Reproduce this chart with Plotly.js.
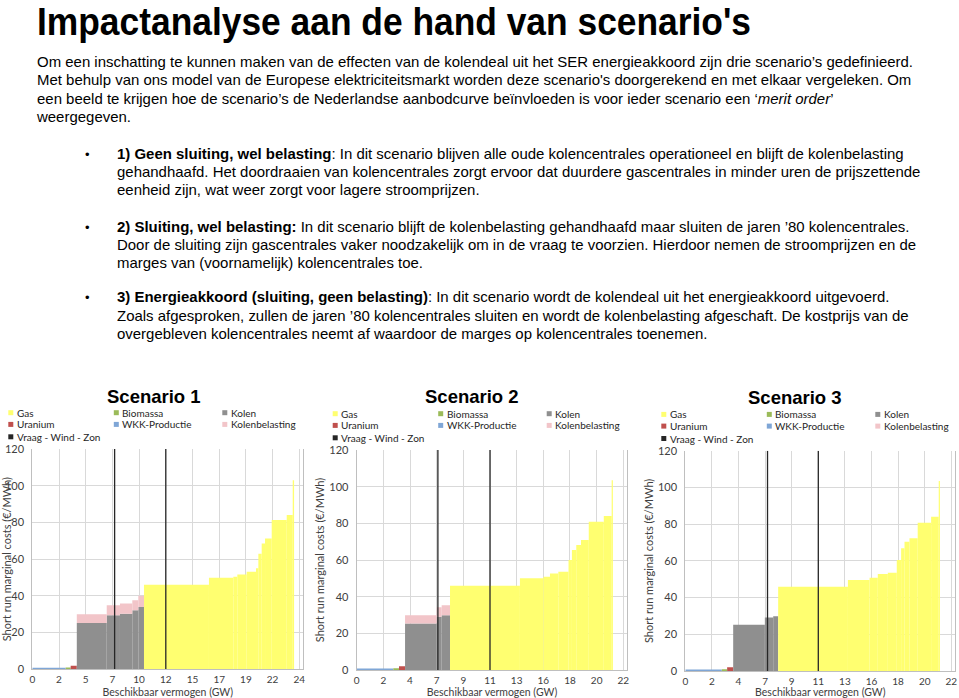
<!DOCTYPE html>
<html><head><meta charset="utf-8">
<script src="https://cdn.plot.ly/plotly-3.0.1.min.js"></script>
<style>
html,body{margin:0;padding:0;background:#fff;width:959px;height:698px;overflow:hidden;}
#page{position:relative;width:959px;height:698px;font-family:"Liberation Sans",Arial,sans-serif;color:#000;}
.ttl{position:absolute;left:37px;top:0px;font-size:38.5px;line-height:normal;font-weight:bold;white-space:nowrap;transform-origin:0 0;}
.ln{position:absolute;font-size:15px;line-height:18px;white-space:nowrap;transform-origin:0 0;}
.bul{position:absolute;font-size:13px;line-height:18px;}
#chart{position:absolute;left:0;top:380px;width:959px;height:318px;}
</style></head>
<body><div id="page">
<div class="ttl" id="ttl">Impactanalyse aan de hand van scenario's</div>
<div id="text"></div>
<div id="chart"></div>
</div>
<script>
// ---------------- DATA ----------------
// Scenario 1: merit order blocks (capacity in GW, cost in EUR/MWh, coal tax in EUR/MWh)
const s1Fuel = ['WKK-Productie','Biomassa','Uranium','Kolen','Kolen','Kolen','Kolen','Kolen','Gas','Gas','Gas','Gas','Gas','Gas','Gas','Gas','Gas','Gas','Gas','Gas'];
const s1Cap  = [3.0, 0.45, 0.55, 2.69, 1.19, 1.11, 0.54, 0.51, 5.84, 2.19, 0.36, 0.84, 0.84, 0.21, 0.30, 0.30, 0.60, 1.35, 0.54, 0.12];
const s1Cost = [0.8, 1.0, 2.0, 25.2, 29.4, 30.3, 32.1, 33.9, 46.0, 49.9, 50.4, 51.7, 53.2, 55.0, 63.0, 68.5, 71.3, 81.3, 84.0, 103.0];
const s1Tax  = [0, 0, 0, 4.8, 5.5, 5.5, 5.5, 6.2, 0, 0, 0, 0, 0, 0, 0, 0, 0, 0, 0, 0];
const s1Demand = [7.4, 12.0];
const s1TickText = ['0','2','5','7','10','12','15','17','19','22','24'];

// Scenario 2
const s2Fuel = ['WKK-Productie','Biomassa','Uranium','Kolen','Kolen','Kolen','Gas','Gas','Gas','Gas','Gas','Gas','Gas','Gas','Gas','Gas','Gas','Gas'];
const s2Cap  = [3.02, 0.47, 0.50, 2.61, 0.41, 0.69, 5.77, 1.94, 0.54, 0.69, 0.84, 0.28, 0.36, 0.39, 0.64, 1.24, 0.65, 0.10];
const s2Cost = [0.8, 1.0, 2.0, 25.3, 29.1, 29.8, 46.0, 50.0, 50.9, 52.7, 53.6, 60.0, 65.5, 68.2, 70.9, 80.9, 84.0, 103.5];
const s2Tax  = [0, 0, 0, 4.5, 5.1, 5.5, 0, 0, 0, 0, 0, 0, 0, 0, 0, 0, 0, 0];
const s2Demand = [6.7, 11.0];
const s2TickText = ['0','2','4','7','9','11','13','16','18','20','22'];

// Scenario 3
const s3Fuel = ['WKK-Productie','Biomassa','Uranium','Kolen','Kolen','Kolen','Gas','Gas','Gas','Gas','Gas','Gas','Gas','Gas','Gas','Gas','Gas','Gas'];
const s3Cap  = [3.02, 0.44, 0.50, 2.62, 0.69, 0.41, 5.77, 1.79, 0.68, 0.83, 0.74, 0.36, 0.28, 0.41, 0.68, 1.11, 0.63, 0.10];
const s3Cost = [0.8, 1.0, 2.0, 25.2, 29.2, 29.8, 45.9, 49.6, 50.8, 52.8, 53.5, 60.5, 66.8, 70.4, 72.3, 80.8, 84.0, 103.5];
const s3Tax  = [0, 0, 0, 0, 0, 0, 0, 0, 0, 0, 0, 0, 0, 0, 0, 0, 0, 0];
const s3Demand = [6.8, 11.0];
const s3TickText = ['0','2','4','7','9','11','13','16','18','20','22'];

const legendNames = ['Gas','Biomassa','Kolen','Uranium','WKK-Productie','Kolenbelasting','Vraag - Wind - Zon'];
const scenarioTitles = ['Scenario 1','Scenario 2','Scenario 3'];

// ---------------- STYLE ----------------
const colors = {
  'Gas':'#ffff70','Biomassa':'#9bbb59','Kolen':'#8f8f8f','Uranium':'#c0504d',
  'WKK-Productie':'#7fa6d6','Kolenbelasting':'#f2c5c9','Vraag - Wind - Zon':'#262626'
};

// ---------------- TEXT ----------------
const lines = [
 {x:37, cy:63, h:"Om een inschatting te kunnen maken van de effecten van de kolendeal uit het SER energieakkoord zijn drie scenario’s gedefinieerd."},
 {x:37, cy:81, h:"Met behulp van ons model van de Europese elektriciteitsmarkt worden deze scenario's doorgerekend en met elkaar vergeleken. Om"},
 {x:37, cy:100, h:"een beeld te krijgen hoe de scenario’s de Nederlandse aanbodcurve beïnvloeden is voor ieder scenario een ‘<i>merit order</i>’"},
 {x:37, cy:118, h:"weergegeven."},
 {x:117, cy:155, h:"<b>1) Geen sluiting, wel belasting</b>: In dit scenario blijven alle oude kolencentrales operationeel en blijft de kolenbelasting", b:1},
 {x:117, cy:173, h:"gehandhaafd. Het doordraaien van kolencentrales zorgt ervoor dat duurdere gascentrales in minder uren de prijszettende"},
 {x:117, cy:191, h:"eenheid zijn, wat weer zorgt voor lagere stroomprijzen."},
 {x:117, cy:228, h:"<b>2) Sluiting, wel belasting:</b> In dit scenario blijft de kolenbelasting gehandhaafd maar sluiten de jaren ’80 kolencentrales.", b:1},
 {x:117, cy:246, h:"Door de sluiting zijn gascentrales vaker noodzakelijk om in de vraag te voorzien. Hierdoor nemen de stroomprijzen en de"},
 {x:117, cy:264, h:"marges van (voornamelijk) kolencentrales toe."},
 {x:117, cy:298, h:"<b>3) Energieakkoord (sluiting, geen belasting)</b>: In dit scenario wordt de kolendeal uit het energieakkoord uitgevoerd.", b:1},
 {x:117, cy:317, h:"Zoals afgesproken, zullen de jaren ’80 kolencentrales sluiten en wordt de kolenbelasting afgeschaft. De kostprijs van de"},
 {x:117, cy:335, h:"overgebleven kolencentrales neemt af waardoor de marges op kolencentrales toenemen."}
];
const textHost = document.getElementById('text');
const lineEls = [];
lines.forEach(l => {
  const d = document.createElement('div');
  d.className = 'ln'; d.style.left = l.x + 'px'; d.style.top = (l.cy - 10) + 'px';
  d.innerHTML = l.h; textHost.appendChild(d); lineEls.push(d);
  if (l.b) {
    const b = document.createElement('div');
    b.className = 'bul'; b.style.left = '85px'; b.style.top = (l.cy - 9) + 'px';
    b.textContent = '•'; textHost.appendChild(b);
  }
});
function fitText(){
  lineEls.forEach(e => e.style.transform = '');
  const t = document.getElementById('ttl'); t.style.transform = '';
  const sc = 876 / lineEls[0].getBoundingClientRect().width;
  lineEls.forEach(e => e.style.transform = 'scaleX(' + sc + ')');
  t.style.transform = 'scaleX(' + (714 / t.getBoundingClientRect().width) + ')';
}
fitText();
if (document.fonts && document.fonts.ready) document.fonts.ready.then(fitText);

// ---------------- CHART ----------------
const W = 959, H = 318, TOP = 380;
const fx = x => x / W;
const fy = y => (H - (y - TOP)) / H;
const CF = 'Lato, "Open Sans", sans-serif';

const scen = [
  {fuel:s1Fuel, cap:s1Cap, cost:s1Cost, tax:s1Tax, dem:s1Demand, tt:s1TickText, step:2.4, L:32.3, R:303.3, T:449, B:669.3, titleX:154, titleY:396.5},
  {fuel:s2Fuel, cap:s2Cap, cost:s2Cost, tax:s2Tax, dem:s2Demand, tt:s2TickText, step:2.2, L:356.7, R:627.3, T:450, B:670, titleX:471.5, titleY:397},
  {fuel:s3Fuel, cap:s3Cap, cost:s3Cost, tax:s3Tax, dem:s3Demand, tt:s3TickText, step:2.2, L:685.3, R:955.3, T:450.7, B:671, titleX:794.7, titleY:397.5}
];

const traces = [];
const layout = {
  width: W, height: H, margin:{l:0,r:0,t:0,b:0},
  paper_bgcolor:'rgba(0,0,0,0)', plot_bgcolor:'#ffffff',
  barmode:'overlay', showlegend:false,
  font:{family:CF, size:10, color:'#404040'},
  annotations:[], shapes:[]
};

scen.forEach((s, k) => {
  const n = k === 0 ? '' : String(k + 1);
  const xa = 'x' + n, ya = 'y' + n;
  let acc = 0; const cen = [];
  s.cap.forEach(c => { cen.push(acc + c / 2); acc += c; });
  ['WKK-Productie','Biomassa','Uranium','Kolen','Gas'].forEach(f => {
    const idx = s.fuel.map((v,i)=>v===f?i:-1).filter(i=>i>=0);
    traces.push({type:'bar', name:f, xaxis:xa, yaxis:ya,
      x: idx.map(i=>cen[i]), width: idx.map(i=>s.cap[i]), y: idx.map(i=>s.cost[i]), base: idx.map(()=>0),
      marker:{color:colors[f], line:{width:0}}, hoverinfo:'name+y'});
  });
  const ti = s.tax.map((v,i)=>v>0?i:-1).filter(i=>i>=0);
  traces.push({type:'bar', name:'Kolenbelasting', xaxis:xa, yaxis:ya,
    x: ti.map(i=>cen[i]), width: ti.map(i=>s.cap[i]), y: ti.map(i=>s.tax[i]), base: ti.map(i=>s.cost[i]),
    marker:{color:colors['Kolenbelasting'], line:{width:0}}, hoverinfo:'name+y'});
  const vx = [], vy = [];
  s.dem.forEach(d => { vx.push(d, d, null); vy.push(0, 120, null); });
  traces.push({type:'scatter', mode:'lines', name:'Vraag - Wind - Zon', xaxis:xa, yaxis:ya,
    x: vx, y: vy, line:{color:colors['Vraag - Wind - Zon'], width:1.3}, hoverinfo:'name+x'});

  const nt = s.tt.length;
  layout['xaxis' + n] = {
    domain:[fx(s.L), fx(s.R)], anchor: ya, range:[0, (nt - 1) * s.step + 0.15 * s.step],
    tickvals: s.tt.map((_, i) => i * s.step), ticktext: s.tt,
    showgrid:true, gridcolor:'#d9d9d9', gridwidth:1, zeroline:false,
    showline:true, linecolor:'#bfbfbf', linewidth:1, ticks:'', ticklabelstandoff:1,
    tickfont:{family:CF, size:10, color:'#404040'},
    title:{text:'Beschikbaar vermogen (GW)', font:{family:CF, size:10.5, color:'#404040'}, standoff:4},
    fixedrange:true
  };
  layout['yaxis' + n] = {
    domain:[fy(s.B), fy(s.T)], anchor: xa, range:[0,120], dtick:20,
    showgrid:true, gridcolor:'#d9d9d9', gridwidth:1, zeroline:false,
    showline:true, mirror:true, linecolor:'#bfbfbf', linewidth:1, ticks:'', ticklabelstandoff:5,
    tickfont:{family:CF, size:11, color:'#404040'},
    title:{text:'Short run marginal costs (€/MWh)', font:{family:CF, size:11, color:'#404040'}, standoff:2},
    fixedrange:true
  };
  layout.annotations.push({xref:'paper', yref:'paper', x:fx(s.titleX), y:fy(s.titleY), xanchor:'center', yanchor:'middle',
    text:'<b>' + scenarioTitles[k] + '</b>', showarrow:false, font:{family:'"Liberation Sans", Arial, sans-serif', size:18.5, color:'#000'}});
  const colOff = [-24, 81.5, 190], rowOff = [-36.3, -24.6, -12.2];
  legendNames.forEach((nm, j) => {
    const cx = s.L + colOff[j % 3], cy = s.T + rowOff[Math.floor(j / 3)];
    layout.shapes.push({type:'rect', xref:'paper', yref:'paper', x0:fx(cx), x1:fx(cx + 5), y0:fy(cy + 2.5), y1:fy(cy - 2.5),
      fillcolor:colors[nm], line:{width:0}});
    layout.annotations.push({xref:'paper', yref:'paper', x:fx(cx + 6.5), y:fy(cy), xanchor:'left', yanchor:'middle',
      text:nm, showarrow:false, font:{family:CF, size:10, color:'#262626'}});
  });
});

Plotly.newPlot('chart', traces, layout, {displayModeBar:false, staticPlot:true});
</script>
</body></html>
